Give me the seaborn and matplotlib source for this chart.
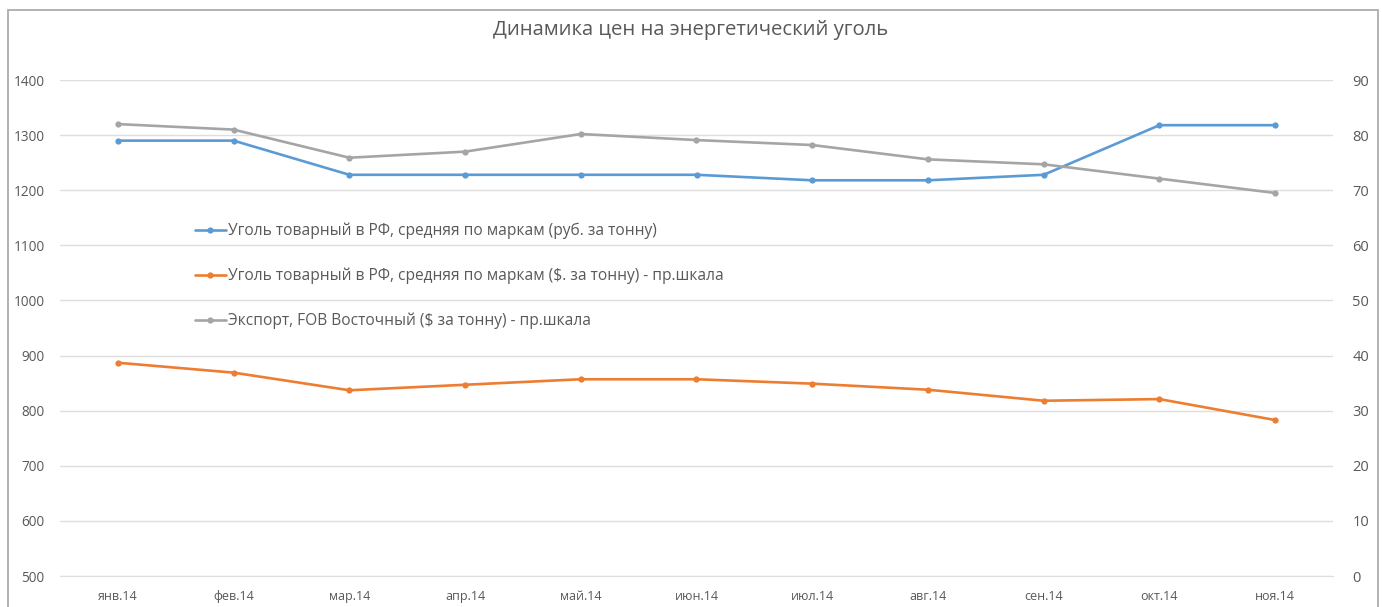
import matplotlib
matplotlib.use("Agg")
import matplotlib.pyplot as plt
import seaborn as sns
import pandas as pd
from matplotlib.patches import Rectangle

months = ["янв.14", "фев.14", "мар.14", "апр.14", "май.14", "июн.14",
          "июл.14", "авг.14", "сен.14", "окт.14", "ноя.14"]
coal_rub = [1290, 1290, 1228, 1228, 1228, 1228, 1218, 1218, 1228, 1318, 1318]
coal_usd = [38.7, 36.9, 33.7, 34.7, 35.7, 35.7, 34.9, 33.8, 31.8, 32.1, 28.3]
export_fob = [82.0, 81.0, 75.9, 77.0, 80.2, 79.1, 78.2, 75.6, 74.7, 72.1, 69.5]

label_rub = "Уголь товарный в РФ, средняя по маркам (руб. за тонну)"
label_usd = "Уголь товарный в РФ, средняя по маркам ($. за тонну) - пр.шкала"
label_fob = "Экспорт, FOB Восточный ($ за тонну) - пр.шкала"
title = "Динамика цен на энергетический уголь"
left_ticks = [500, 600, 700, 800, 900, 1000, 1100, 1200, 1300, 1400]
right_ticks = [0, 10, 20, 30, 40, 50, 60, 70, 80, 90]

sns.set_style("white")
plt.rcParams['font.family'] = ['Open Sans', 'DejaVu Sans']

text_color = "#595959"
grid_color = "#dedede"
c_blue = "#5B9BD5"
c_orange = "#ED7D31"
c_gray = "#A5A5A5"

df = pd.DataFrame({"x": range(len(months)), "rub": coal_rub,
                   "usd": coal_usd, "fob": export_fob})

fig = plt.figure(figsize=(13.82, 6.07), dpi=100)
ax = fig.add_axes([60/1382, 1-576/607, (1333-60)/1382, (576-80)/607])
ax2 = ax.twinx()

sns.lineplot(data=df, x="x", y="rub", ax=ax, color=c_blue, linewidth=1.9,
             marker="o", markersize=4.5, markeredgewidth=0, label=label_rub, legend=False)
sns.lineplot(data=df, x="x", y="usd", ax=ax2, color=c_orange, linewidth=1.9,
             marker="o", markersize=4.5, markeredgewidth=0, label=label_usd, legend=False)
sns.lineplot(data=df, x="x", y="fob", ax=ax2, color=c_gray, linewidth=1.9,
             marker="o", markersize=4.5, markeredgewidth=0, label=label_fob, legend=False)

ax.set_xlim(-0.5, len(months) - 0.5)
ax.set_ylim(500, 1400)
ax2.set_ylim(0, 90)
ax.set_yticks(left_ticks)
ax2.set_yticks(right_ticks)
ax.set_xticks(range(len(months)))
ax.set_xticklabels(months)
ax.set_xlabel("")
ax.set_ylabel("")
ax2.set_ylabel("")

ax.grid(axis="y", color=grid_color, linewidth=1)
ax.set_axisbelow(True)
for a in (ax, ax2):
    for s in a.spines.values():
        s.set_visible(False)
ax.spines["bottom"].set_visible(True)
ax.spines["bottom"].set_color(grid_color)

ax.tick_params(axis="y", length=0, pad=11, labelsize=9.8, labelcolor=text_color)
ax2.tick_params(axis="y", length=0, pad=14, labelsize=10.5, labelcolor=text_color)
ax.tick_params(axis="x", length=0, pad=10, labelsize=9, labelcolor=text_color)

h1, l1 = ax.get_legend_handles_labels()
h2, l2 = ax2.get_legend_handles_labels()
ax2.legend(h1 + h2, l1 + l2, loc="upper left", bbox_to_anchor=(0.095, 0.74),
           frameon=False, fontsize=11.2, labelcolor=text_color, handlelength=2.0,
           handletextpad=0.1, labelspacing=1.82)

fig.text(0.5, 1 - 30/607, title, ha="center", va="center", fontsize=14.6,
         color=text_color)

fig.patches.append(Rectangle((8/1382, -0.05), (1378-8)/1382, 1 - 10/607 + 0.05,
                             transform=fig.transFigure, fill=False,
                             edgecolor="#a6a6a6", linewidth=1.2))

fig.savefig("out.png", dpi=100)
